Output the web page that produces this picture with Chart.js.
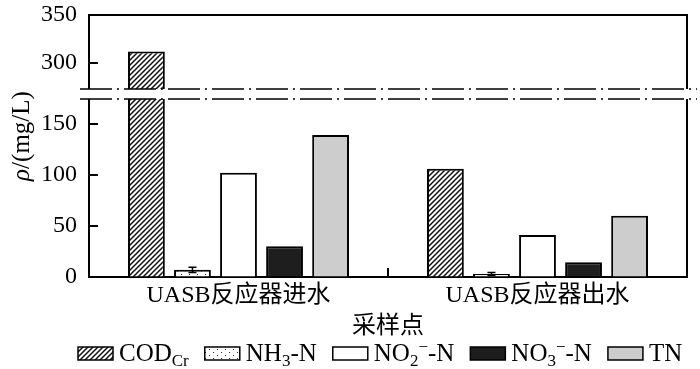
<!DOCTYPE html>
<html>
<head>
<meta charset="utf-8">
<script src="https://cdn.jsdelivr.net/npm/chart.js@4"></script>
<style>
  html, body { margin: 0; padding: 0; background: #fff; }
  #wrap { width: 700px; height: 369px; }
</style>
</head>
<body>
<div id="wrap"><canvas id="chart" width="700" height="369"></canvas></div>
<script>
// ─── Data ───────────────────────────────────────────────────
const categories = ['UASB反应器进水', 'UASB反应器出水'];
const codCr  = [312, 106];
const nh3N   = [7, 3];
const nh3Err = [2.5, 1.5];
const no2N   = [102, 41];
const no3N   = [30, 14.5];
const tn     = [139, 60];

// broken axis ranges
const HIGH_MIN = 268, HIGH_MAX = 350;
const LOW_MIN  = 0,   LOW_MAX  = 179;

// legend text, split into runs so subscripts can be drawn
const legendLabels = [
  [{ t: 'COD' }, { t: 'Cr', sub: true }],
  [{ t: 'NH' }, { t: '3', sub: true }, { t: '-N' }],
  [{ t: 'NO' }, { t: '2', sub: true }, { t: '−', sup: true }, { t: '-N' }],
  [{ t: 'NO' }, { t: '3', sub: true }, { t: '−', sup: true }, { t: '-N' }],
  [{ t: 'TN' }],
];

const FONT = '"Liberation Serif", "Noto Sans CJK SC", serif';

// ─── Fill patterns ──────────────────────────────────────────
function hatchPattern() {
  const c = document.createElement('canvas');
  c.width = 5; c.height = 5;
  const g = c.getContext('2d');
  g.fillStyle = '#fff';
  g.fillRect(0, 0, 5, 5);
  g.strokeStyle = '#111';
  g.lineWidth = 1.5;
  g.beginPath();
  g.moveTo(-1, 6); g.lineTo(6, -1);
  g.moveTo(-1, 1); g.lineTo(1, -1);
  g.moveTo(4, 6);  g.lineTo(6, 4);
  g.stroke();
  return g.createPattern(c, 'repeat');
}

function dotPattern() {
  const c = document.createElement('canvas');
  c.width = 8; c.height = 6;
  const g = c.getContext('2d');
  g.fillStyle = '#fff';
  g.fillRect(0, 0, 8, 6);
  g.fillStyle = '#333';
  g.fillRect(1, 1, 1, 1);
  g.fillRect(5, 4, 1, 1);
  return g.createPattern(c, 'repeat');
}

const fills = [hatchPattern(), dotPattern(), '#ffffff', '#1e1e1e', '#cdcdcd'];

// ─── Custom drawing: ticks, frame, axis break, error bars, legend ─
const decorPlugin = {
  id: 'decor',
  afterDatasetsDraw(chart) {
    const ctx = chart.ctx;
    const { left, right, top, bottom } = chart.chartArea;
    const yLow = chart.scales.yLow;
    const yHigh = chart.scales.yHigh;
    const x = chart.scales.x;

    ctx.save();
    ctx.strokeStyle = '#000';
    ctx.lineWidth = 2;

    // frame top + right
    ctx.beginPath();
    ctx.moveTo(left - 1, top);
    ctx.lineTo(right, top);
    ctx.lineTo(right, bottom);
    ctx.stroke();

    // inward y ticks
    [yLow, yHigh].forEach((s) => {
      s.ticks.forEach((t) => {
        const y = Math.round(s.getPixelForValue(t.value));
        ctx.beginPath();
        ctx.moveTo(left, y);
        ctx.lineTo(left + 9, y);
        ctx.stroke();
      });
    });

    // category boundary tick on x axis
    const mid = (x.getPixelForValue(0) + x.getPixelForValue(1)) / 2;
    ctx.beginPath();
    ctx.moveTo(mid, bottom);
    ctx.lineTo(mid, bottom - 9);
    ctx.stroke();

    // error bars on NH3-N
    const meta = chart.getDatasetMeta(1);
    ctx.lineWidth = 1.5;
    meta.data.forEach((bar, i) => {
      const yA = yLow.getPixelForValue(nh3N[i] + nh3Err[i]);
      const yB = yLow.getPixelForValue(nh3N[i] - nh3Err[i]);
      ctx.beginPath();
      ctx.moveTo(bar.x, yA); ctx.lineTo(bar.x, yB);
      ctx.moveTo(bar.x - 4, yA); ctx.lineTo(bar.x + 4, yA);
      ctx.moveTo(bar.x - 4, yB); ctx.lineTo(bar.x + 4, yB);
      ctx.stroke();
    });

    // axis break band
    const yb = yLow.top;
    ctx.fillStyle = '#fff';
    ctx.fillRect(left - 10, yb - 5, right - left + 22, 10);
    ctx.lineWidth = 1.6;
    ctx.setLineDash([32, 5, 2, 5]);
    [yb - 5, yb + 5].forEach((y) => {
      ctx.beginPath();
      ctx.moveTo(left - 9, y);
      ctx.lineTo(right + 10, y);
      ctx.stroke();
    });
    ctx.setLineDash([]);

    // y title: italic rho + regular unit
    ctx.fillStyle = '#000';
    ctx.translate(22, 136);
    ctx.rotate(-Math.PI / 2);
    ctx.textBaseline = 'middle';
    ctx.font = 'italic 25px ' + FONT;
    const w1 = ctx.measureText('ρ').width;
    ctx.font = '25px ' + FONT;
    const w2 = ctx.measureText('/(mg/L)').width;
    let tx = -(w1 + w2) / 2;
    ctx.font = 'italic 25px ' + FONT;
    ctx.fillText('ρ', tx, 0);
    ctx.font = '25px ' + FONT;
    ctx.fillText('/(mg/L)', tx + w1, 0);
    ctx.restore();

    drawLegend(ctx);
  },
};

function runWidth(ctx, run) {
  ctx.font = (run.sub || run.sup ? '17px ' : '25px ') + FONT;
  return ctx.measureText(run.t).width;
}

function drawLegend(ctx) {
  const y = 353;
  let x = 78;
  ctx.save();
  ctx.textBaseline = 'alphabetic';
  legendLabels.forEach((runs, i) => {
    ctx.fillStyle = fills[i];
    ctx.fillRect(x, y - 6, 35, 13);
    ctx.strokeStyle = '#000';
    ctx.lineWidth = 1.5;
    ctx.strokeRect(x, y - 6, 35, 13);
    x += 41;
    ctx.fillStyle = '#000';
    runs.forEach((run) => {
      const w = runWidth(ctx, run);
      const dy = run.sub ? 5 : run.sup ? -9 : 0;
      ctx.fillText(run.t, x, y + 8 + dy);
      x += w;
    });
    x += 16;
  });
  ctx.restore();
}

// ─── Chart ──────────────────────────────────────────────────
const common = {
  borderColor: '#000',
  borderWidth: 2,
  clip: 0,
  categoryPercentage: 0.77,
  barPercentage: 0.8,
};

const datasets = [
  { label: 'CODCr', data: codCr, stack: 'cod', yAxisID: 'yLow', backgroundColor: fills[0], ...common },
  { label: 'NH3-N', data: nh3N,  stack: 'nh3', yAxisID: 'yLow', backgroundColor: fills[1], ...common },
  { label: 'NO2-N', data: no2N,  stack: 'no2', yAxisID: 'yLow', backgroundColor: fills[2], ...common },
  { label: 'NO3-N', data: no3N,  stack: 'no3', yAxisID: 'yLow', backgroundColor: fills[3], ...common },
  { label: 'TN',    data: tn,    stack: 'tn',  yAxisID: 'yLow', backgroundColor: fills[4], ...common },
  // upper panel of the broken axis: only values that reach it
  { label: 'CODCr (high)', data: codCr.map((v) => (v > HIGH_MIN ? v : null)),
    stack: 'cod', yAxisID: 'yHigh', backgroundColor: fills[0], ...common },
];

const tickFont = { family: FONT, size: 24 };

function fixYWidth(s) {
  s.width = 89;
  s.paddingTop = 0;
  s.paddingBottom = 0;
}

new Chart(document.getElementById('chart'), {
  type: 'bar',
  data: { labels: categories, datasets },
  options: {
    responsive: false,
    devicePixelRatio: 1,
    animation: false,
    layout: { padding: { left: 0, right: 13, top: 15, bottom: 28 } },
    plugins: { legend: { display: false }, tooltip: { enabled: false } },
    scales: {
      x: {
        afterFit: (s) => { s.height = 64; },
        grid: { display: false, drawTicks: false },
        border: { display: true, color: '#000', width: 2 },
        ticks: { color: '#000', font: tickFont, padding: 4, maxRotation: 0, autoSkip: false },
        title: { display: true, text: '采样点', color: '#000', font: tickFont, padding: { top: 2, bottom: 0 } },
      },
      yLow: {
        type: 'linear',
        position: 'left',
        stack: 'v',
        stackWeight: 183,
        stacked: false,
        min: LOW_MIN,
        max: LOW_MAX,
        afterFit: fixYWidth,
        grid: { drawOnChartArea: false, drawTicks: false },
        border: { display: true, color: '#000', width: 2 },
        ticks: { stepSize: 50, includeBounds: false, color: '#000', font: tickFont, padding: 12 },
      },
      yHigh: {
        type: 'linear',
        position: 'left',
        stack: 'v',
        stackWeight: 79,
        stacked: false,
        min: HIGH_MIN,
        max: HIGH_MAX,
        afterFit: fixYWidth,
        grid: { drawOnChartArea: false, drawTicks: false },
        border: { display: true, color: '#000', width: 2 },
        ticks: { stepSize: 50, includeBounds: false, color: '#000', font: tickFont, padding: 12 },
      },
    },
  },
  plugins: [decorPlugin],
});
</script>
</body>
</html>
